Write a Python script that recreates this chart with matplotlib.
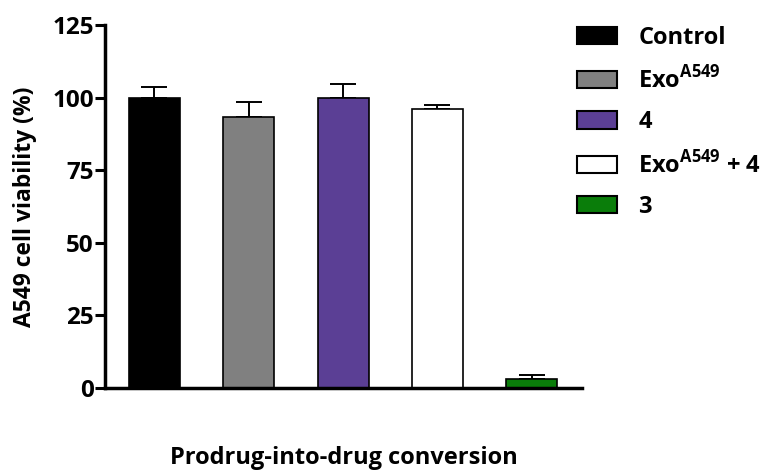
import matplotlib
matplotlib.use("Agg")
import matplotlib.pyplot as plt
from matplotlib.patches import Patch

# data
groups = ["Control", "Exo$^{\\mathbf{A549}}$", "4", "Exo$^{\\mathbf{A549}}$ + 4", "3"]
viability = [100.0, 93.3, 100.0, 96.1, 3.0]
sem = [3.6, 5.3, 4.6, 1.2, 1.3]
colors = ["#000000", "#808080", "#5b3f95", "#ffffff", "#0a7d0a"]
yticks = [0, 25, 50, 75, 100, 125]

plt.rcParams["font.family"] = ["Open Sans", "DejaVu Sans"]
plt.rcParams["font.weight"] = "bold"
plt.rcParams["mathtext.fontset"] = "custom"
plt.rcParams["mathtext.bf"] = "Open Sans:bold"
plt.rcParams["mathtext.rm"] = "Open Sans:bold"

fig = plt.figure(figsize=(7.64, 4.70), dpi=100)
ax = fig.add_axes([0.1374, 0.1745, 0.6244, 0.7723])

x = list(range(len(groups)))
ax.bar(x, viability, width=0.54, color=colors, edgecolor="black", linewidth=1.2, zorder=2)
ax.errorbar(x, viability, yerr=[[0] * len(sem), sem], fmt="none", ecolor="black",
            elinewidth=1.4, capsize=9.5, capthick=1.4, zorder=1)

ax.set_xlim(-0.52, 4.53)
ax.set_ylim(0, 125)
ax.set_yticks(yticks)
ax.set_xticks([])
for s in ["top", "right"]:
    ax.spines[s].set_visible(False)
ax.spines["left"].set_linewidth(2.5)
ax.spines["bottom"].set_linewidth(2.5)
ax.tick_params(axis="y", length=7, width=2.2, pad=1, labelsize=17.5)
for lbl in ax.get_yticklabels():
    lbl.set_fontweight("bold")

ax.set_ylabel("A549 cell viability (%)", fontsize=16.5, fontweight="bold", labelpad=11)
ax.set_xlabel("Prodrug-into-drug conversion", fontsize=17, fontweight="bold", labelpad=42)

handles = [Patch(facecolor=c, edgecolor="black", linewidth=1.5) for c in colors]
leg = fig.legend(handles, groups, loc="upper left", bbox_to_anchor=(0.755, 0.945),
                 frameon=False, fontsize=17, handlelength=1.7, handleheight=0.75,
                 handletextpad=0.9, labelspacing=0.69, borderpad=0, borderaxespad=0)
for t in leg.get_texts():
    t.set_fontweight("bold")

fig.savefig("out.png", dpi=100)
